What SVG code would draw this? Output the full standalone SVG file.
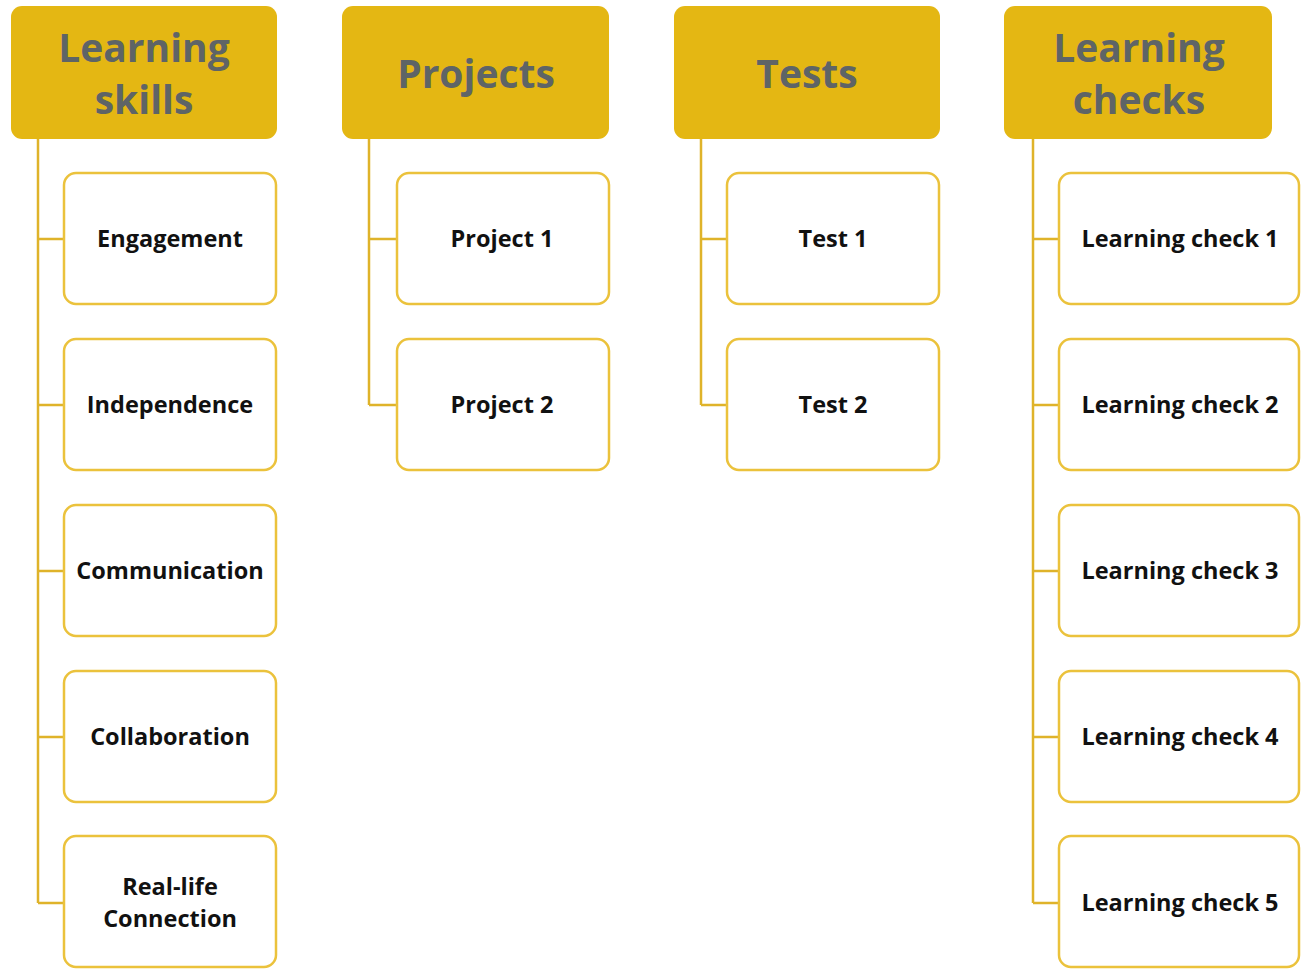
<svg xmlns="http://www.w3.org/2000/svg" width="1302" height="969" viewBox="0 0 1302 969">
<style>
.hdr{fill:#E4B713}
.ht{font-family:"Open Sans","Liberation Sans",sans-serif;font-weight:bold;font-size:39px;fill:#5E6466;text-anchor:middle}
.box{fill:#fff;stroke:#EBC23C;stroke-width:2.5}
.bt{font-family:"Open Sans","Liberation Sans",sans-serif;font-weight:bold;font-size:23.5px;fill:#111;text-anchor:middle}
.con{fill:none;stroke:#DFB32A;stroke-width:2.5}
</style>
<g id="connectors">
<path class="con" d="M38 139V903M38 239H64M38 405H64M38 571H64M38 737H64M38 903H64"/>
<path class="con" d="M369 139V405M369 239H397M369 405H397"/>
<path class="con" d="M701 139V405M701 239H727M701 405H727"/>
<path class="con" d="M1033 139V903M1033 239H1059M1033 405H1059M1033 571H1059M1033 737H1059M1033 903H1059"/>
</g>
<g id="h1"><rect class="hdr" x="11" y="6" width="266" height="133" rx="11"/><text class="ht" x="144" y="62">Learning</text><text class="ht" x="144" y="114">skills</text></g>
<g id="h2"><rect class="hdr" x="342" y="6" width="267" height="133" rx="11"/><text class="ht" x="476" y="88">Projects</text></g>
<g id="h3"><rect class="hdr" x="674" y="6" width="266" height="133" rx="11"/><text class="ht" x="807" y="88">Tests</text></g>
<g id="h4"><rect class="hdr" x="1004" y="6" width="268" height="133" rx="11"/><text class="ht" x="1139" y="62">Learning</text><text class="ht" x="1139" y="114">checks</text></g>
<g id="n1"><rect class="box" x="64" y="173" width="212" height="131" rx="12"/><text class="bt" x="170" y="247">Engagement</text></g>
<g id="n2"><rect class="box" x="64" y="339" width="212" height="131" rx="12"/><text class="bt" x="170" y="413">Independence</text></g>
<g id="n3"><rect class="box" x="64" y="505" width="212" height="131" rx="12"/><text class="bt" x="170" y="579">Communication</text></g>
<g id="n4"><rect class="box" x="64" y="671" width="212" height="131" rx="12"/><text class="bt" x="170" y="745">Collaboration</text></g>
<g id="n5"><rect class="box" x="64" y="836" width="212" height="131" rx="12"/><text class="bt" x="170" y="895">Real-life</text><text class="bt" x="170" y="927">Connection</text></g>
<g id="p1"><rect class="box" x="397" y="173" width="212" height="131" rx="12"/><text class="bt" x="502" y="247">Project 1</text></g>
<g id="p2"><rect class="box" x="397" y="339" width="212" height="131" rx="12"/><text class="bt" x="502" y="413">Project 2</text></g>
<g id="t1"><rect class="box" x="727" y="173" width="212" height="131" rx="12"/><text class="bt" x="833" y="247">Test 1</text></g>
<g id="t2"><rect class="box" x="727" y="339" width="212" height="131" rx="12"/><text class="bt" x="833" y="413">Test 2</text></g>
<g id="l1"><rect class="box" x="1059" y="173" width="240" height="131" rx="12"/><text class="bt" x="1180" y="247">Learning check 1</text></g>
<g id="l2"><rect class="box" x="1059" y="339" width="240" height="131" rx="12"/><text class="bt" x="1180" y="413">Learning check 2</text></g>
<g id="l3"><rect class="box" x="1059" y="505" width="240" height="131" rx="12"/><text class="bt" x="1180" y="579">Learning check 3</text></g>
<g id="l4"><rect class="box" x="1059" y="671" width="240" height="131" rx="12"/><text class="bt" x="1180" y="745">Learning check 4</text></g>
<g id="l5"><rect class="box" x="1059" y="836" width="240" height="131" rx="12"/><text class="bt" x="1180" y="911">Learning check 5</text></g>
</svg>
